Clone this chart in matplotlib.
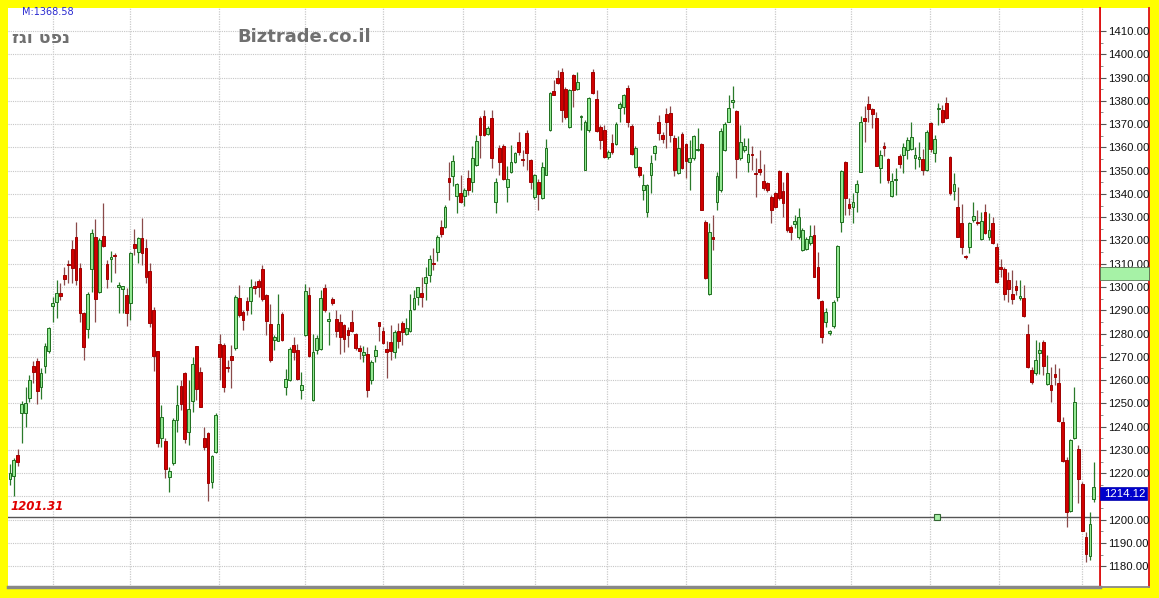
import matplotlib
matplotlib.use("Agg")
import matplotlib.pyplot as plt
import matplotlib.transforms as mtransforms
from matplotlib.patches import Rectangle

# daily OHLC (280 sessions)
opens = [
    1217.7, 1218.8, 1227.8, 1245.7, 1246.0, 1252.2, 1266.0, 1268.2, 1256.9, 1266.2,
    1272.7, 1292.0, 1293.7, 1297.3, 1305.2, 1309.9, 1316.2, 1321.7, 1308.0, 1288.7,
    1281.8, 1307.6, 1321.7, 1298.0, 1322.0, 1309.9, 1311.9, 1313.4, 1299.9, 1299.0,
    1296.6, 1293.0, 1318.4, 1315.2, 1320.9, 1316.6, 1307.0, 1290.1, 1272.7, 1235.0,
    1234.0, 1218.5, 1224.2, 1242.9, 1257.5, 1262.9, 1237.9, 1251.2, 1274.8, 1263.6,
    1235.0, 1237.1, 1216.4, 1229.3, 1275.5, 1275.1, 1265.8, 1270.4, 1273.7, 1295.2,
    1289.4, 1294.2, 1294.2, 1300.3, 1302.8, 1307.9, 1296.4, 1284.2, 1277.3, 1277.0,
    1288.5, 1257.0, 1259.9, 1274.9, 1272.8, 1255.6, 1279.2, 1296.4, 1251.3, 1272.8,
    1273.5, 1299.7, 1285.4, 1294.7, 1286.4, 1284.9, 1283.5, 1281.6, 1284.9, 1279.9,
    1273.9, 1270.6, 1271.3, 1259.9, 1270.2, 1284.9, 1281.3, 1273.4, 1276.3, 1272.0,
    1280.9, 1284.7, 1279.7, 1280.9, 1290.5, 1295.9, 1297.3, 1301.6, 1305.2, 1310.4,
    1315.0, 1326.0, 1325.7, 1346.8, 1347.5, 1339.3, 1340.6, 1339.3, 1346.8, 1345.3,
    1352.5, 1372.8, 1373.3, 1365.7, 1372.8, 1336.4, 1359.9, 1360.8, 1342.8, 1349.3,
    1353.6, 1362.2, 1354.8, 1366.2, 1354.5, 1338.7, 1345.2, 1338.4, 1348.0, 1367.4,
    1384.3, 1390.0, 1392.4, 1385.3, 1368.8, 1391.0, 1385.3, 1373.0, 1350.5, 1367.4,
    1392.4, 1381.0, 1368.8, 1367.4, 1355.9, 1361.9, 1361.6, 1377.1, 1377.4, 1385.7,
    1369.1, 1351.6, 1351.6, 1341.6, 1332.3, 1348.2, 1357.5, 1371.1, 1365.4, 1374.3,
    1374.7, 1364.0, 1348.9, 1365.7, 1361.4, 1353.6, 1355.4, 1358.9, 1361.4, 1328.1,
    1296.9, 1321.7, 1336.4, 1341.7, 1358.9, 1371.1, 1379.4, 1375.7, 1355.4, 1358.9,
    1353.6, 1357.1, 1348.9, 1350.6, 1345.6, 1344.6, 1338.9, 1340.3, 1349.9, 1341.3,
    1348.9, 1325.6, 1327.0, 1321.3, 1316.0, 1316.4, 1318.8, 1322.4, 1308.4, 1293.8,
    1284.9, 1280.1, 1283.4, 1295.9, 1327.9, 1353.9, 1335.6, 1334.2, 1341.0, 1349.6,
    1372.8, 1378.6, 1376.6, 1372.6, 1351.3, 1360.8, 1355.1, 1339.3, 1345.8, 1356.1,
    1356.6, 1358.8, 1359.5, 1355.6, 1355.2, 1355.2, 1350.2, 1370.5, 1357.7, 1376.3,
    1376.0, 1378.9, 1355.9, 1341.3, 1334.4, 1327.6, 1313.2, 1317.0, 1328.7, 1328.0,
    1320.8, 1332.3, 1321.5, 1327.6, 1317.3, 1308.7, 1307.9, 1302.9, 1297.2, 1300.3,
    1295.5, 1295.5, 1279.7, 1264.5, 1263.1, 1271.7, 1276.4, 1258.5, 1257.8, 1262.8,
    1258.8, 1242.0, 1225.8, 1203.8, 1235.3, 1230.6, 1215.5, 1192.6, 1184.3, 1209.1,
]
highs = [
    1224.0, 1226.5, 1230.2, 1251.0, 1257.2, 1262.0, 1268.0, 1269.4, 1265.0, 1275.8,
    1283.0, 1295.9, 1303.0, 1301.6, 1308.8, 1311.6, 1320.2, 1328.1, 1310.2, 1289.4,
    1298.0, 1324.8, 1329.1, 1321.0, 1336.0, 1311.6, 1315.6, 1314.5, 1302.3, 1300.5,
    1299.5, 1315.2, 1324.8, 1321.7, 1329.5, 1320.5, 1310.2, 1291.6, 1272.7, 1249.3,
    1235.0, 1222.8, 1243.6, 1257.9, 1260.0, 1263.6, 1260.0, 1270.0, 1274.8, 1265.8,
    1239.7, 1237.9, 1227.8, 1245.7, 1279.8, 1275.8, 1268.7, 1275.1, 1296.6, 1300.9,
    1290.1, 1295.9, 1303.6, 1302.8, 1303.6, 1309.3, 1297.1, 1292.8, 1279.2, 1297.1,
    1289.2, 1264.9, 1274.2, 1278.5, 1275.6, 1263.4, 1301.4, 1300.0, 1280.0, 1279.2,
    1298.8, 1301.4, 1289.2, 1295.7, 1290.0, 1288.5, 1284.2, 1282.8, 1290.0, 1280.2,
    1274.9, 1274.5, 1274.2, 1268.5, 1275.2, 1284.9, 1282.8, 1276.6, 1283.7, 1281.6,
    1284.4, 1285.2, 1286.6, 1296.9, 1298.8, 1300.2, 1304.5, 1308.8, 1313.8, 1316.7,
    1322.4, 1328.9, 1335.3, 1353.9, 1356.8, 1344.6, 1348.2, 1342.5, 1350.3, 1360.4,
    1365.4, 1373.3, 1376.1, 1369.0, 1376.1, 1346.8, 1361.1, 1361.4, 1351.8, 1361.1,
    1358.2, 1366.8, 1358.8, 1367.4, 1355.2, 1348.7, 1346.6, 1353.8, 1363.8, 1383.8,
    1389.1, 1393.2, 1394.3, 1386.0, 1385.3, 1391.7, 1392.4, 1373.8, 1371.7, 1381.7,
    1393.9, 1384.6, 1369.5, 1369.5, 1358.8, 1365.9, 1370.9, 1379.5, 1383.1, 1386.7,
    1370.2, 1360.5, 1351.9, 1348.7, 1344.4, 1356.8, 1361.1, 1374.0, 1366.8, 1376.8,
    1378.0, 1365.4, 1364.7, 1366.8, 1361.8, 1363.2, 1365.4, 1368.3, 1361.8, 1328.9,
    1327.4, 1331.0, 1349.6, 1368.3, 1371.1, 1382.6, 1386.2, 1376.1, 1369.7, 1364.0,
    1364.2, 1360.4, 1355.6, 1358.9, 1352.8, 1345.3, 1339.6, 1341.0, 1350.3, 1345.3,
    1349.3, 1326.7, 1331.0, 1333.9, 1325.3, 1321.7, 1326.7, 1326.7, 1315.2, 1294.5,
    1290.9, 1281.6, 1294.5, 1318.1, 1350.3, 1354.2, 1338.2, 1340.3, 1346.0, 1373.3,
    1377.6, 1381.9, 1377.1, 1375.1, 1358.9, 1362.5, 1355.6, 1348.9, 1351.1, 1357.1,
    1361.7, 1364.5, 1371.0, 1360.2, 1362.4, 1359.5, 1367.4, 1371.0, 1365.2, 1378.9,
    1378.1, 1381.7, 1356.2, 1348.8, 1343.0, 1335.6, 1313.7, 1328.0, 1336.6, 1333.0,
    1332.3, 1335.6, 1331.6, 1330.1, 1319.0, 1312.2, 1308.7, 1306.5, 1307.2, 1302.9,
    1302.9, 1300.8, 1284.3, 1265.7, 1277.1, 1276.4, 1277.1, 1270.7, 1265.7, 1267.1,
    1265.0, 1244.2, 1227.0, 1234.9, 1257.1, 1232.0, 1216.2, 1194.8, 1203.4, 1224.8,
]
lows = [
    1215.0, 1210.2, 1223.0, 1232.8, 1239.7, 1250.7, 1258.6, 1249.7, 1252.0, 1262.9,
    1271.5, 1285.1, 1286.6, 1294.4, 1300.9, 1301.6, 1301.6, 1300.9, 1285.1, 1268.7,
    1278.0, 1298.0, 1285.1, 1297.3, 1317.4, 1299.5, 1302.3, 1306.2, 1288.7, 1288.7,
    1283.3, 1285.8, 1313.8, 1310.2, 1309.5, 1301.6, 1283.0, 1264.1, 1231.4, 1231.4,
    1217.8, 1212.0, 1223.5, 1237.9, 1247.2, 1232.8, 1232.1, 1246.4, 1251.5, 1248.6,
    1230.0, 1208.2, 1213.5, 1228.5, 1260.1, 1255.0, 1263.6, 1256.5, 1273.0, 1287.3,
    1281.5, 1288.0, 1288.5, 1297.1, 1295.7, 1294.2, 1279.2, 1267.7, 1272.8, 1276.8,
    1277.0, 1253.4, 1259.6, 1268.5, 1259.9, 1252.0, 1278.8, 1269.9, 1251.0, 1271.3,
    1273.0, 1289.2, 1275.0, 1292.1, 1278.5, 1271.3, 1272.0, 1274.2, 1280.6, 1272.8,
    1269.2, 1267.7, 1252.7, 1258.4, 1267.7, 1277.0, 1275.6, 1260.8, 1268.7, 1269.4,
    1273.7, 1275.0, 1279.4, 1280.6, 1290.2, 1292.3, 1291.6, 1294.5, 1302.3, 1307.4,
    1311.0, 1321.7, 1325.3, 1337.5, 1343.2, 1331.7, 1336.0, 1335.0, 1339.6, 1341.0,
    1352.2, 1355.4, 1365.1, 1365.4, 1351.1, 1331.7, 1348.2, 1346.0, 1336.4, 1348.9,
    1353.2, 1356.8, 1351.9, 1350.2, 1342.3, 1338.0, 1333.0, 1338.0, 1348.0, 1367.1,
    1382.4, 1387.4, 1371.0, 1372.4, 1368.5, 1377.4, 1384.6, 1367.4, 1350.2, 1366.6,
    1383.1, 1366.6, 1359.5, 1355.6, 1355.2, 1357.3, 1360.9, 1370.9, 1374.5, 1368.8,
    1356.6, 1351.3, 1347.3, 1337.3, 1330.1, 1340.3, 1354.6, 1363.2, 1361.8, 1359.7,
    1362.5, 1347.5, 1348.5, 1350.8, 1346.8, 1341.7, 1354.6, 1358.6, 1333.2, 1303.5,
    1296.6, 1316.0, 1333.2, 1341.0, 1358.5, 1370.8, 1376.8, 1346.8, 1354.6, 1358.2,
    1349.6, 1350.3, 1338.9, 1348.2, 1341.7, 1341.0, 1327.4, 1333.9, 1337.5, 1330.3,
    1323.8, 1320.3, 1325.3, 1320.7, 1315.5, 1316.0, 1318.1, 1304.1, 1294.9, 1275.8,
    1283.0, 1279.4, 1282.6, 1294.0, 1323.8, 1331.0, 1331.0, 1327.4, 1332.4, 1349.3,
    1362.5, 1371.1, 1368.3, 1351.8, 1344.6, 1356.1, 1344.6, 1338.9, 1339.6, 1351.1,
    1348.8, 1355.2, 1358.8, 1350.9, 1351.6, 1348.1, 1349.9, 1358.1, 1353.8, 1369.5,
    1370.3, 1372.4, 1339.5, 1337.3, 1321.3, 1314.4, 1312.2, 1314.7, 1328.0, 1326.6,
    1320.1, 1322.7, 1320.4, 1318.7, 1301.8, 1304.4, 1294.3, 1293.6, 1292.9, 1296.5,
    1294.3, 1287.2, 1265.4, 1258.2, 1262.1, 1262.8, 1262.1, 1257.8, 1250.6, 1257.8,
    1242.0, 1224.8, 1196.9, 1203.4, 1234.9, 1207.0, 1195.2, 1181.9, 1182.6, 1207.7,
]
closes = [
    1220.2, 1225.7, 1224.7, 1249.6, 1250.0, 1260.0, 1263.6, 1255.5, 1263.2, 1274.8,
    1282.4, 1293.3, 1297.3, 1296.3, 1303.3, 1309.3, 1308.0, 1303.0, 1288.7, 1274.4,
    1297.0, 1323.4, 1294.7, 1320.2, 1317.8, 1303.3, 1313.1, 1313.2, 1300.9, 1300.5,
    1288.7, 1314.5, 1316.6, 1320.9, 1314.5, 1304.2, 1284.4, 1270.4, 1233.1, 1244.3,
    1221.7, 1221.0, 1242.9, 1249.3, 1249.7, 1234.6, 1247.5, 1266.9, 1256.1, 1248.6,
    1231.4, 1215.6, 1227.4, 1245.0, 1269.8, 1257.2, 1265.3, 1268.7, 1295.9, 1288.0,
    1285.8, 1290.1, 1300.0, 1299.5, 1300.0, 1295.0, 1285.6, 1268.5, 1278.5, 1284.2,
    1277.3, 1260.6, 1273.5, 1272.1, 1260.6, 1257.7, 1298.3, 1270.2, 1272.0, 1278.1,
    1295.4, 1290.2, 1286.4, 1293.1, 1281.3, 1278.5, 1277.8, 1279.2, 1281.3, 1273.9,
    1272.5, 1272.0, 1255.6, 1267.7, 1272.8, 1283.1, 1275.9, 1272.0, 1272.3, 1280.6,
    1276.8, 1280.6, 1282.3, 1290.2, 1295.5, 1299.8, 1295.9, 1304.1, 1311.9, 1310.0,
    1321.3, 1322.7, 1334.3, 1345.3, 1354.2, 1344.2, 1336.4, 1341.5, 1341.5, 1355.4,
    1362.8, 1365.4, 1365.4, 1368.5, 1355.4, 1345.0, 1353.9, 1346.5, 1346.5, 1353.6,
    1357.5, 1358.2, 1354.5, 1357.6, 1345.2, 1348.0, 1340.1, 1351.6, 1359.9, 1383.4,
    1382.7, 1387.7, 1376.0, 1373.1, 1384.8, 1384.8, 1388.1, 1373.4, 1370.9, 1381.4,
    1383.4, 1367.1, 1363.1, 1355.9, 1358.0, 1358.0, 1370.2, 1378.5, 1382.4, 1370.9,
    1357.3, 1359.9, 1348.0, 1343.7, 1343.7, 1353.2, 1360.4, 1366.1, 1363.7, 1370.8,
    1365.4, 1350.3, 1359.9, 1351.3, 1354.2, 1355.4, 1364.7, 1359.5, 1333.2, 1303.8,
    1323.6, 1320.7, 1347.5, 1367.1, 1370.0, 1377.1, 1380.4, 1355.1, 1362.2, 1360.4,
    1357.1, 1356.8, 1348.5, 1349.6, 1342.5, 1341.7, 1333.2, 1334.6, 1338.2, 1336.0,
    1324.6, 1323.8, 1328.4, 1329.9, 1324.6, 1320.7, 1322.1, 1304.5, 1295.2, 1278.7,
    1289.2, 1280.9, 1293.5, 1317.8, 1349.9, 1338.2, 1333.9, 1336.4, 1344.2, 1370.8,
    1371.4, 1376.6, 1374.3, 1352.2, 1356.8, 1359.7, 1346.0, 1345.6, 1345.9, 1352.8,
    1360.2, 1363.1, 1364.5, 1356.6, 1355.6, 1350.2, 1366.7, 1359.1, 1363.8, 1377.1,
    1371.0, 1372.8, 1340.2, 1344.2, 1321.5, 1317.0, 1312.7, 1327.3, 1330.4, 1327.3,
    1328.4, 1323.3, 1324.7, 1319.0, 1302.2, 1307.9, 1297.2, 1299.3, 1295.0, 1298.9,
    1296.1, 1287.4, 1265.6, 1259.2, 1268.8, 1272.8, 1266.0, 1263.1, 1255.6, 1261.4,
    1242.5, 1225.3, 1203.4, 1234.4, 1250.6, 1217.3, 1195.2, 1185.4, 1198.0, 1214.12,
]

# month separators (in session units) and price levels
month_lines = [11.15, 30.9, 53.8, 75.9, 96.1, 116.7, 135.1, 153.7, 173.9,
               196.9, 216.6, 236.8, 254.6, 275.9]
price_ticks = list(range(1180, 1420, 10))
hidden_tick = 1210  # covered by the last-price box on the original
ref_level = 1201.31
ref_marker_x = 238.6
last_price = 1214.12
title_he = 'נפט וגז'
site = 'Biztrade.co.il'
mlabel = 'M:1368.58'

W, H = 1159, 598
fig = plt.figure(figsize=(W / 100, H / 100), dpi=100, facecolor='#FFFF00')

l, r, t, b = 8, 1100, 8, 587
ax = fig.add_axes([l / W, 1 - b / H, (r - l) / W, (b - t) / H])
ax.set_facecolor('white')

# right price panel (background only)
panel = fig.add_axes([r / W, 1 - b / H, (1149 - r) / W, (b - t) / H])
panel.set_facecolor('white')
panel.set_xticks([])
panel.set_yticks([])
for s in panel.spines.values():
    s.set_color('#DD1111')
    s.set_linewidth(1.3)
panel.spines['bottom'].set_color('#888888')
panel.spines['top'].set_visible(False)
panel.set_zorder(0)
ax.set_zorder(1)

n = len(closes)
xs = list(range(n))

for i in xs:
    o, h, lo, c = opens[i], highs[i], lows[i], closes[i]
    if c >= o:
        wick, face, edge = '#2A7A2A', '#93E893', '#1E6E1E'
    else:
        wick, face, edge = '#8A4A4A', '#D00000', '#A00000'
    ax.vlines(i, lo, h, color=wick, linewidth=0.9, zorder=3)
    ax.add_patch(Rectangle((i - 0.36, min(o, c)), 0.72, max(abs(c - o), 0.5),
                           facecolor=face, edgecolor=edge, linewidth=0.7, zorder=4))

ax.set_xlim(-0.51, 280.6)
ax.set_ylim(1171.1, 1419.9)

# grid
for y in price_ticks:
    ax.axhline(y, color='#C6C6C6', linewidth=0.8, linestyle=(0, (1, 1)), zorder=1)
for x in month_lines:
    ax.axvline(x, color='#CACACA', linewidth=0.9, linestyle=(0, (1, 1)), zorder=1)

# reference line
ax.axhline(ref_level, color='#555555', linewidth=1.0, zorder=2)
ax.plot([ref_marker_x], [ref_level], marker='s', markersize=4.5,
        markerfacecolor='#A8F0A8', markeredgecolor='#336633', markeredgewidth=0.8, zorder=6)
ax.text(0.2, ref_level + 1.8, '%.2f' % ref_level, color='#E00000', fontsize=8.5,
        fontweight='bold', fontstyle='italic', va='bottom', ha='left', zorder=6)

# axes styling
ax.set_xticks([])
ax.yaxis.tick_right()
ax.set_yticks(price_ticks)
ax.set_yticklabels(['' if v == hidden_tick else '%.2f' % v for v in price_ticks],
                   family='Liberation Sans')
ax.set_yticks([v + 5 for v in price_ticks[:-1]], minor=True)
ax.tick_params(axis='y', which='major', direction='out', length=4, width=0.8,
               color='#555555', labelsize=8.2, pad=1.5, labelcolor='#111111')
ax.tick_params(axis='y', which='minor', direction='out', length=2, width=0.6,
               color='#777777')
ax.spines['top'].set_visible(False)
ax.spines['left'].set_visible(False)
ax.spines['right'].set_color('#DD1111')
ax.spines['right'].set_linewidth(1.3)
ax.spines['bottom'].set_color('#888888')
ax.spines['bottom'].set_linewidth(2.5)

blend = mtransforms.blended_transform_factory(fig.transFigure, ax.transData)
# green highlight box in price panel
ax.add_patch(Rectangle((1100 / W, 1302.9), 49 / W, 5.5, transform=blend,
                       facecolor='#A6F2A6', edgecolor='#557755', linewidth=0.6,
                       clip_on=False, zorder=7))
# last price box
ax.add_patch(Rectangle((1100 / W, last_price - 5.7), 47 / W, 5.6, transform=blend,
                       facecolor='#0000CC', edgecolor='#0000AA', linewidth=0.5,
                       clip_on=False, zorder=7))
ax.text(1104 / W, last_price - 2.9, '%.2f' % last_price, transform=blend, color='white',
        fontsize=8.2, family='Liberation Sans', va='center', ha='left', zorder=8,
        clip_on=False)

# header texts
fig.text(22 / W, 1 - 12 / H, mlabel, color='#2B2BD0', fontsize=7, va='center', ha='left')
fig.text(12 / W, 1 - 38 / H, title_he[::-1], color='#707070', fontsize=12.5,
         fontweight='bold', va='center', ha='left')
fig.text(237 / W, 1 - 37 / H, site, color='#707070', fontsize=13,
         fontweight='bold', va='center', ha='left')

fig.savefig('out.png', dpi=100, facecolor=fig.get_facecolor())
